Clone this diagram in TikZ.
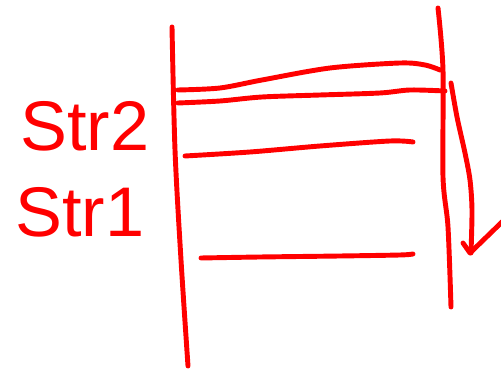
\documentclass[tikz,border=0pt]{standalone}
\usepackage{fontspec}
\setmainfont{Liberation Sans}
\usetikzlibrary{calc}

\begin{document}
\begin{tikzpicture}[x=0.02cm,y=-0.02cm,
    pen/.style={red, line width=2.8pt, line cap=round, line join=round},
    lbl/.style={red, font=\fontsize{40}{40}\selectfont, inner sep=0pt}]
    % Fix the page to the reference size
    \useasboundingbox (0,0) rectangle (501,374);

    % Draw the two walls of the stack
    \draw[pen] plot[smooth] coordinates {(172,27) (175,150) (181,260) (188,366)};
    \draw[pen] plot[smooth] coordinates {(438,8) (443,70) (443,177) (448,227) (451,307)};

    % Draw the stack entries
    \draw[pen] plot[smooth, tension=0.5] coordinates {(178,90) (220,88) (262,80) (330,68) (400,63) (425,65) (440,70)};
    \draw[pen] plot[smooth, tension=0.5] coordinates {(178,103) (220,101) (262,97) (320,95) (380,93) (410,90) (445,91)};
    \draw[pen] plot[smooth, tension=0.5] coordinates {(185,156) (250,152) (320,146) (390,141) (413,142)};
    \draw[pen] plot[smooth, tension=0.5] coordinates {(201,258) (260,257) (340,256) (400,255) (413,254)};

    % Labels of the entries
    \node[lbl] (str2) at (85,126) {Str2};
    \node[lbl] (str1) at (80,212) {Str1};

    % Draw the arrow going down
    \draw[pen] plot[smooth] coordinates {(451,83) (457,117) (465,153) (470,180) (472,210) (471,253)};
    \draw[pen] (463,243) -- (470,253) -- (503,221);

\end{tikzpicture}
\end{document}
